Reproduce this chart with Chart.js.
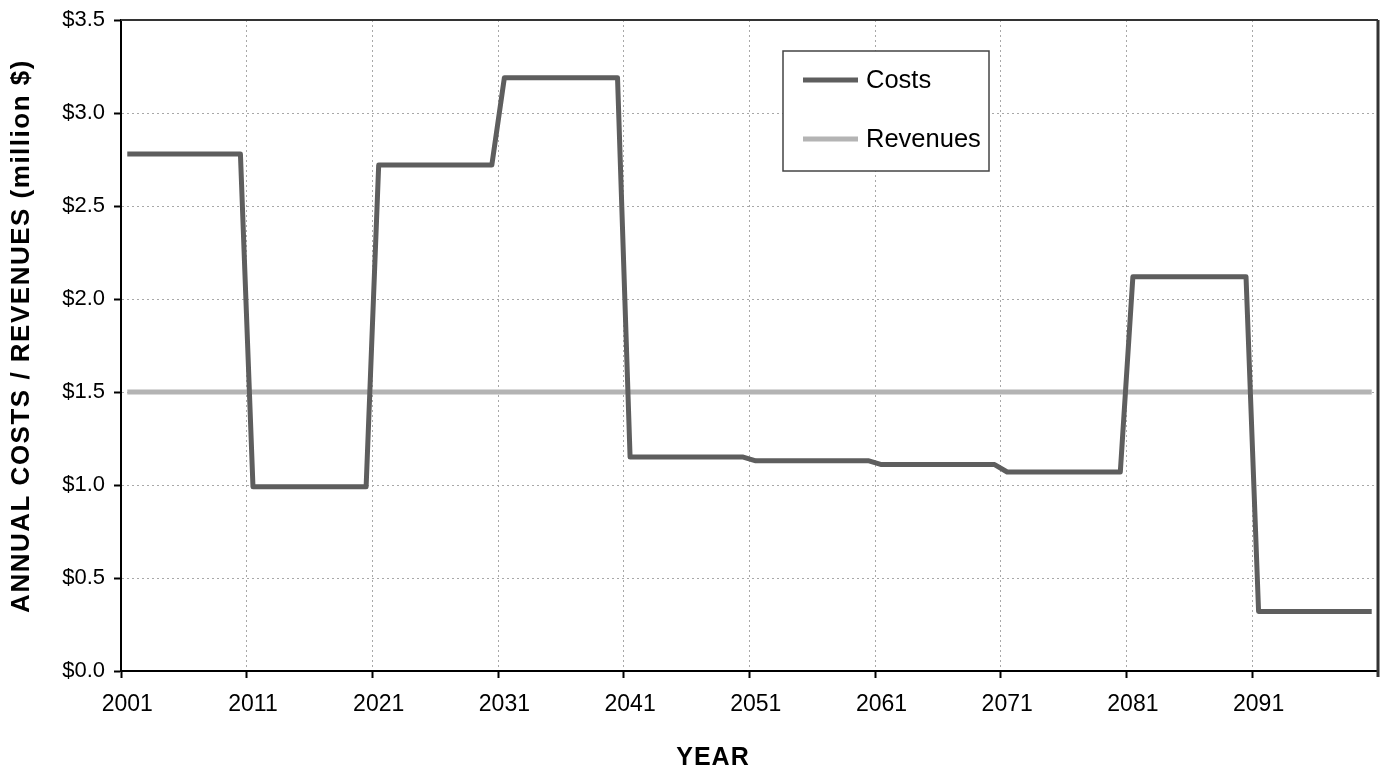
<!DOCTYPE html>
<html>
<head>
<meta charset="utf-8">
<script src="https://cdn.jsdelivr.net/npm/chart.js@4.4.0/dist/chart.umd.min.js"></script>
<style>
html, body { margin: 0; padding: 0; background: #fff; }
#wrap { width: 1382px; height: 769px; }
</style>
</head>
<body>
<div id="wrap"><canvas id="costsChart" width="1382" height="769"></canvas></div>
<script>
// Años del periodo (categorías)
var years = [
    2001, 2002, 2003, 2004, 2005, 2006, 2007, 2008, 2009, 2010,
    2011, 2012, 2013, 2014, 2015, 2016, 2017, 2018, 2019, 2020,
    2021, 2022, 2023, 2024, 2025, 2026, 2027, 2028, 2029, 2030,
    2031, 2032, 2033, 2034, 2035, 2036, 2037, 2038, 2039, 2040,
    2041, 2042, 2043, 2044, 2045, 2046, 2047, 2048, 2049, 2050,
    2051, 2052, 2053, 2054, 2055, 2056, 2057, 2058, 2059, 2060,
    2061, 2062, 2063, 2064, 2065, 2066, 2067, 2068, 2069, 2070,
    2071, 2072, 2073, 2074, 2075, 2076, 2077, 2078, 2079, 2080,
    2081, 2082, 2083, 2084, 2085, 2086, 2087, 2088, 2089, 2090,
    2091, 2092, 2093, 2094, 2095, 2096, 2097, 2098, 2099, 2100
];

// Costos anuales (millones $)
var costs = [
    2.78, 2.78, 2.78, 2.78, 2.78, 2.78, 2.78, 2.78, 2.78, 2.78,
    0.99, 0.99, 0.99, 0.99, 0.99, 0.99, 0.99, 0.99, 0.99, 0.99,
    2.72, 2.72, 2.72, 2.72, 2.72, 2.72, 2.72, 2.72, 2.72, 2.72,
    3.19, 3.19, 3.19, 3.19, 3.19, 3.19, 3.19, 3.19, 3.19, 3.19,
    1.15, 1.15, 1.15, 1.15, 1.15, 1.15, 1.15, 1.15, 1.15, 1.15,
    1.13, 1.13, 1.13, 1.13, 1.13, 1.13, 1.13, 1.13, 1.13, 1.13,
    1.11, 1.11, 1.11, 1.11, 1.11, 1.11, 1.11, 1.11, 1.11, 1.11,
    1.07, 1.07, 1.07, 1.07, 1.07, 1.07, 1.07, 1.07, 1.07, 1.07,
    2.12, 2.12, 2.12, 2.12, 2.12, 2.12, 2.12, 2.12, 2.12, 2.12,
    0.32, 0.32, 0.32, 0.32, 0.32, 0.32, 0.32, 0.32, 0.32, 0.32
];

// Ingresos anuales (millones $)
var revenues = [
    1.5, 1.5, 1.5, 1.5, 1.5, 1.5, 1.5, 1.5, 1.5, 1.5,
    1.5, 1.5, 1.5, 1.5, 1.5, 1.5, 1.5, 1.5, 1.5, 1.5,
    1.5, 1.5, 1.5, 1.5, 1.5, 1.5, 1.5, 1.5, 1.5, 1.5,
    1.5, 1.5, 1.5, 1.5, 1.5, 1.5, 1.5, 1.5, 1.5, 1.5,
    1.5, 1.5, 1.5, 1.5, 1.5, 1.5, 1.5, 1.5, 1.5, 1.5,
    1.5, 1.5, 1.5, 1.5, 1.5, 1.5, 1.5, 1.5, 1.5, 1.5,
    1.5, 1.5, 1.5, 1.5, 1.5, 1.5, 1.5, 1.5, 1.5, 1.5,
    1.5, 1.5, 1.5, 1.5, 1.5, 1.5, 1.5, 1.5, 1.5, 1.5,
    1.5, 1.5, 1.5, 1.5, 1.5, 1.5, 1.5, 1.5, 1.5, 1.5,
    1.5, 1.5, 1.5, 1.5, 1.5, 1.5, 1.5, 1.5, 1.5, 1.5
];

var FONT = '"Liberation Sans", Arial, sans-serif';

// marco superior/derecho, leyenda y títulos de ejes
var extrasPlugin = {
    id: 'extras',
    afterDatasetsDraw: function (chart) {
        var ctx = chart.ctx;
        var a = chart.chartArea;
        ctx.save();
        ctx.strokeStyle = '#333';
        ctx.lineWidth = 2;
        ctx.beginPath();
        ctx.moveTo(a.left, a.top);
        ctx.lineTo(a.right, a.top);
        ctx.stroke();
        ctx.lineWidth = 3;
        ctx.beginPath();
        ctx.moveTo(a.right, a.top);
        ctx.lineTo(a.right, a.bottom + 6);
        ctx.stroke();

        // leyenda
        ctx.fillStyle = '#fff';
        ctx.fillRect(783, 51, 206, 120);
        ctx.strokeStyle = '#444';
        ctx.lineWidth = 1.5;
        ctx.strokeRect(783, 51, 206, 120);
        chart.data.datasets.forEach(function (ds, i) {
            var y = 80 + i * 59;
            ctx.strokeStyle = ds.borderColor;
            ctx.lineWidth = ds.borderWidth;
            ctx.beginPath();
            ctx.moveTo(803, y);
            ctx.lineTo(858, y);
            ctx.stroke();
            ctx.fillStyle = '#000';
            ctx.font = '25.5px ' + FONT;
            ctx.textAlign = 'left';
            ctx.textBaseline = 'middle';
            ctx.fillText(ds.label, 866, y + 1);
        });

        // títulos de ejes
        ctx.fillStyle = '#000';
        ctx.textAlign = 'center';
        ctx.textBaseline = 'middle';
        ctx.font = 'bold 25px ' + FONT;
        ctx.letterSpacing = '1px';
        ctx.fillText('YEAR', 713, 758);
        ctx.font = 'bold 26px ' + FONT;
        ctx.letterSpacing = '1.5px';
        ctx.translate(22, 336);
        ctx.rotate(-Math.PI / 2);
        ctx.fillText('ANNUAL COSTS / REVENUES (million $)', 0, 0);
        ctx.restore();
    }
};

var ctx1 = document.getElementById('costsChart').getContext('2d');
var costsChart = new Chart(ctx1, {
    type: 'line',
    data: {
        labels: years,
        datasets: [
            {
                label: 'Costs',
                data: costs,
                borderColor: '#5e5e5e',
                borderWidth: 5,
                borderJoinStyle: 'round',
                pointRadius: 0,
                tension: 0
            },
            {
                label: 'Revenues',
                data: revenues,
                borderColor: '#b4b4b4',
                borderWidth: 5,
                pointRadius: 0,
                tension: 0
            }
        ]
    },
    options: {
        responsive: false,
        animation: false,
        layout: { padding: { top: 20, right: 4, left: 0, bottom: 0 } },
        plugins: {
            legend: { display: false },
            tooltip: { enabled: false }
        },
        scales: {
            x: {
                type: 'category',
                offset: true,
                afterFit: function (scale) { scale.height = 98; },
                grid: {
                    offset: true,
                    color: function (c) { return c.index % 10 === 0 ? '#a8a8a8' : 'rgba(0,0,0,0)'; },
                    tickColor: function (c) { return c.index % 10 === 0 ? '#000' : 'rgba(0,0,0,0)'; },
                    lineWidth: 1,
                    tickLength: 7,
                    tickWidth: 2,
                    tickBorderDash: []
                },
                border: { color: '#000', width: 2, dash: [2, 3] },
                ticks: {
                    autoSkip: false,
                    maxRotation: 0,
                    padding: 8,
                    color: '#000',
                    font: { family: FONT, size: 23, lineHeight: 1.6 },
                    callback: function (value, index) {
                        return index % 10 === 0 ? this.getLabelForValue(value) : '';
                    }
                }
            },
            y: {
                min: 0,
                max: 3.5,
                afterFit: function (scale) { scale.width = 121; },
                grid: {
                    color: '#a8a8a8',
                    lineWidth: 1,
                    tickColor: '#000',
                    tickLength: 7,
                    tickWidth: 2,
                    tickBorderDash: []
                },
                border: { color: '#000', width: 2, dash: [2, 3] },
                ticks: {
                    stepSize: 0.5,
                    padding: 9,
                    color: '#000',
                    font: { family: FONT, size: 22, lineHeight: 1 },
                    callback: function (v) { return '$' + v.toFixed(1); }
                }
            }
        }
    },
    plugins: [extrasPlugin]
});
</script>
</body>
</html>
